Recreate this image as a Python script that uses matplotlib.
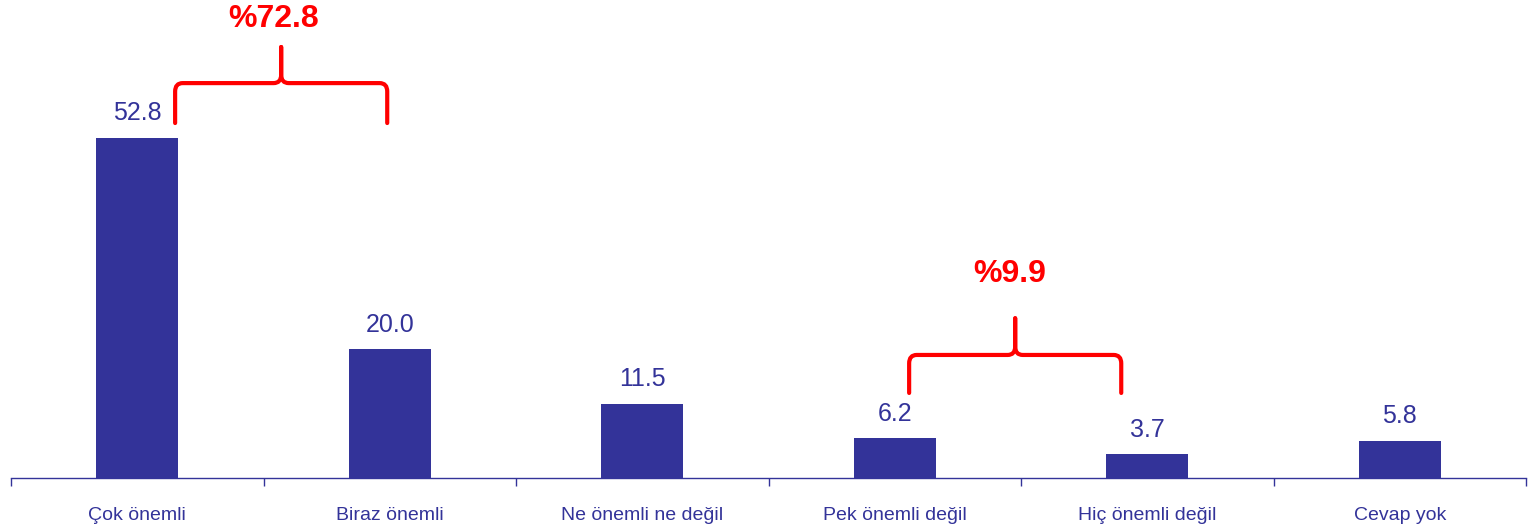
import matplotlib.pyplot as plt
import numpy as np
from matplotlib.path import Path
from matplotlib.patches import PathPatch

plt.rcParams['font.family'] = ['Liberation Sans', 'DejaVu Sans']

categories = ['Çok önemli', 'Biraz önemli', 'Ne önemli ne değil',
              'Pek önemli değil', 'Hiç önemli değil', 'Cevap yok']
values = [52.8, 20.0, 11.5, 6.2, 3.7, 5.8]
labels = ['52.8', '20.0', '11.5', '6.2', '3.7', '5.8']

# grouped totals shown above braces
groups = [(0, 1, '%72.8'), (3, 4, '%9.9')]

blue = '#333399'
red = '#ff0000'

fig = plt.figure(figsize=(15.29, 5.32), dpi=100)
ax = fig.add_axes([11 / 1529, 54 / 532, 1515 / 1529, 478 / 532])

x = np.arange(len(categories))
ax.bar(x, values, width=0.325, color=blue)

for xi, v, lab in zip(x, values, labels):
    ax.annotate(lab, (xi, v), xytext=(0, 9), textcoords='offset points',
                ha='center', va='bottom', fontsize=18, color=blue)

ax.set_xlim(-0.5, len(categories) - 0.5)
ax.set_ylim(0, 74.2)

for s in ['top', 'right', 'left']:
    ax.spines[s].set_visible(False)
ax.spines['bottom'].set_color(blue)
ax.spines['bottom'].set_linewidth(1.0)
ax.set_yticks([])

ax.set_xticks(x)
ax.set_xticklabels(categories, fontsize=14, color=blue)
ax.tick_params(axis='x', which='major', length=0, pad=21)
ax.set_xticks(np.arange(len(categories) + 1) - 0.5, minor=True)
ax.tick_params(axis='x', which='minor', length=6, width=1.0, color=blue,
               direction='out')


def brace(ax, x0, x1, yb, yh, ytop, rx=0.03, ry=1.3):
    xm = (x0 + x1) / 2
    verts = [(x0, yb), (x0, yh - ry), (x0, yh), (x0 + rx, yh),
             (xm - rx, yh), (xm, yh), (xm, yh + ry), (xm, ytop)]
    codes = [Path.MOVETO, Path.LINETO, Path.CURVE3, Path.CURVE3,
             Path.LINETO, Path.CURVE3, Path.CURVE3, Path.LINETO]
    for side in (verts, [(2 * xm - a, b) for a, b in verts]):
        ax.add_patch(PathPatch(Path(side, codes), fill=False, edgecolor=red,
                               lw=3, capstyle='round', joinstyle='round',
                               clip_on=False))
    return xm


i0, i1, txt = groups[0]
xm = brace(ax, i0 + 0.15, i1 - 0.01, 55.1, 61.3, 66.9)
ax.text(xm - 0.03, 71.3, txt, ha='center', va='center', fontsize=23,
        fontweight='bold', color=red)

i0, i1, txt = groups[1]
xm = brace(ax, i0 + 0.057, i1 - 0.103, 13.2, 19.1, 24.8)
ax.text(xm - 0.02, 31.7, txt, ha='center', va='center', fontsize=23,
        fontweight='bold', color=red)

fig.savefig('out.png', dpi=100)
